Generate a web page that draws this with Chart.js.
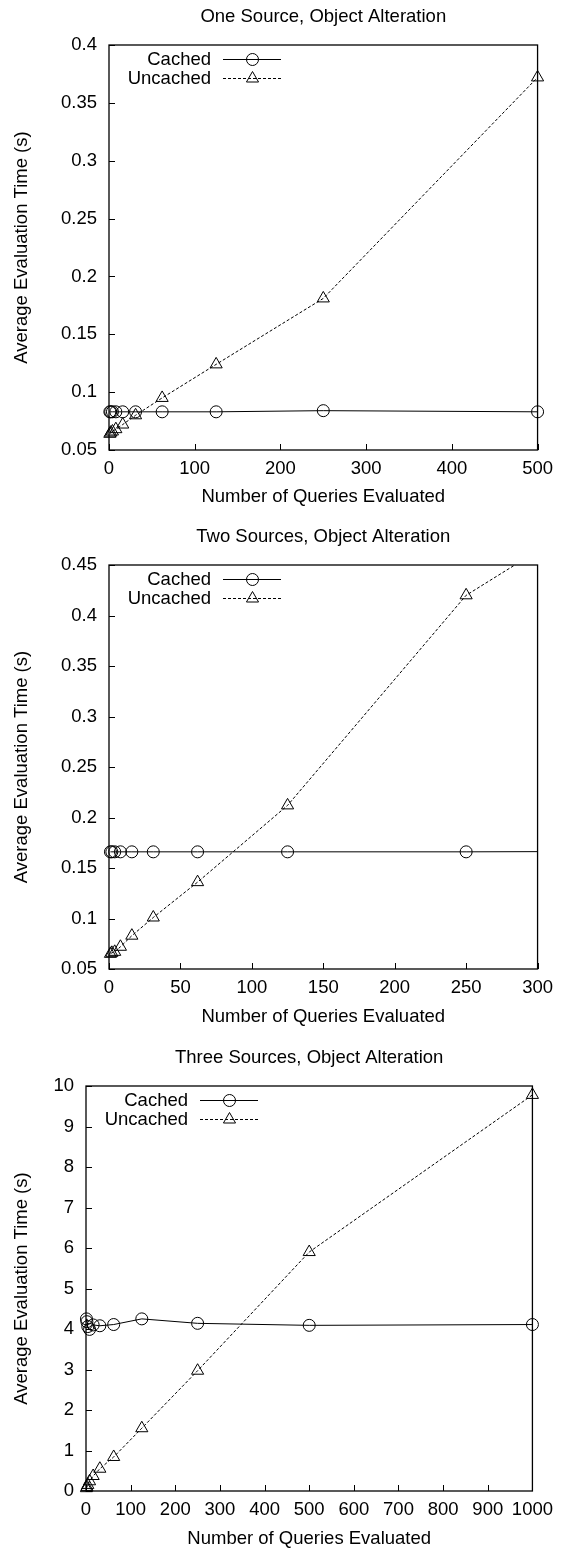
<!DOCTYPE html>
<html>
<head>
<meta charset="utf-8">
<script src="https://cdn.jsdelivr.net/npm/chart.js@4.4.1/dist/chart.umd.min.js"></script>
<style>
  html, body { margin: 0; padding: 0; background: #fff; }
  body { width: 561px; height: 1551px; position: relative; overflow: hidden; }
  canvas { position: absolute; left: 0; }
</style>
</head>
<body>
<canvas id="c1" width="561" height="515" style="top:0px"></canvas>
<canvas id="c2" width="561" height="515" style="top:520px"></canvas>
<canvas id="c3" width="561" height="515" style="top:1036px"></canvas>
<script>
const titles = ['One Source, Object Alteration', 'Two Sources, Object Alteration', 'Three Sources, Object Alteration'];
const xAxisTitle = 'Number of Queries Evaluated';
const yAxisTitle = 'Average Evaluation Time (s)';
const seriesNames = ['Cached', 'Uncached'];

// one source
const queries1 = [1, 2, 4, 8, 16, 31, 62, 125, 250, 500];
const cached1 = [0.083, 0.083, 0.083, 0.083, 0.083, 0.083, 0.083, 0.083, 0.084, 0.083];
const uncached1 = [0.064, 0.065, 0.066, 0.068, 0.072, 0.080, 0.095, 0.124, 0.181, 0.372];
const xRange1 = [0, 500, 100];
const yRange1 = [0.05, 0.4, 0.05];

// two sources (last point lies past the x range)
const queries2 = [1, 2, 4, 8, 16, 31, 62, 125, 250, 500];
const cached2 = [0.166, 0.166, 0.166, 0.166, 0.166, 0.166, 0.166, 0.166, 0.166, 0.167];
const uncached2 = [0.065, 0.066, 0.067, 0.072, 0.083, 0.101, 0.136, 0.212, 0.420, 0.64];
const xRange2 = [0, 300, 50];
const yRange2 = [0.05, 0.45, 0.05];

// three sources
const queries3 = [1, 2, 4, 8, 16, 31, 62, 125, 250, 500, 1000];
const cached3 = [4.25, 4.18, 4.06, 3.99, 4.1, 4.08, 4.11, 4.25, 4.14, 4.09, 4.11];
const uncached3 = [0.07, 0.1, 0.15, 0.24, 0.37, 0.55, 0.84, 1.55, 2.97, 5.9, 9.78];
const xRange3 = [0, 1000, 100];
const yRange3 = [0, 10, 1];

const FONT_FAMILY = "'Liberation Sans', Arial, Helvetica, sans-serif";
const FONT_SIZE = 18.5;
Chart.defaults.color = '#000';
Chart.defaults.font.family = FONT_FAMILY;
Chart.defaults.font.size = FONT_SIZE;

const plainNumber = v => String(+v.toFixed(2));

function marker(ctx, style, r, x, y) {
  ctx.beginPath();
  if (style === 'triangle') {
    let rad = 0;
    ctx.moveTo(x + Math.sin(rad) * r, y - Math.cos(rad) * r);
    rad += Math.PI * 2 / 3;
    ctx.lineTo(x + Math.sin(rad) * r, y - Math.cos(rad) * r);
    rad += Math.PI * 2 / 3;
    ctx.lineTo(x + Math.sin(rad) * r, y - Math.cos(rad) * r);
    ctx.closePath();
  } else {
    ctx.arc(x, y, r, 0, Math.PI * 2);
  }
  ctx.stroke();
}

// box frame, inward ticks and gnuplot-like key
const framePlugin = {
  id: 'frame',
  afterDatasetsDraw(chart) {
    const {ctx, chartArea: a, scales: {x, y}} = chart;
    ctx.save();
    ctx.strokeStyle = '#000';
    ctx.lineWidth = 1;
    ctx.beginPath();
    x.ticks.forEach(t => {
      const px = Math.round(x.getPixelForValue(t.value)) + 0.5;
      ctx.moveTo(px, a.bottom);
      ctx.lineTo(px, a.bottom - 6);
    });
    y.ticks.forEach(t => {
      const py = Math.round(y.getPixelForValue(t.value)) + 0.5;
      ctx.moveTo(a.left, py);
      ctx.lineTo(a.left + 6, py);
    });
    ctx.stroke();
    ctx.lineWidth = 1.3;
    ctx.strokeRect(a.left, a.top, a.right - a.left, a.bottom - a.top);

    ctx.font = FONT_SIZE + 'px ' + FONT_FAMILY;
    ctx.textAlign = 'right';
    ctx.textBaseline = 'middle';
    ctx.fillStyle = '#000';
    chart.data.datasets.forEach((ds, i) => {
      const yy = a.top + 14.5 + i * 19;
      ctx.fillText(ds.label, a.left + 102, yy);
      ctx.lineWidth = 1;
      ctx.setLineDash(ds.borderDash || []);
      ctx.beginPath();
      ctx.moveTo(a.left + 114, yy);
      ctx.lineTo(a.left + 172, yy);
      ctx.stroke();
      ctx.setLineDash([]);
      marker(ctx, ds.pointStyle, ds.pointRadius, a.left + 143.5, yy);
    });
    ctx.restore();
  }
};

function makeChart(id, title, queries, cached, uncached, xRange, yRange, box) {
  const series = [cached, uncached];
  const styles = [
    {pointStyle: 'circle', pointRadius: 6, borderDash: []},
    {pointStyle: 'triangle', pointRadius: 7, borderDash: [3, 2]}
  ];
  new Chart(document.getElementById(id), {
    type: 'line',
    data: {
      datasets: series.map((vals, i) => ({
        label: seriesNames[i],
        data: queries.map((q, k) => ({x: q, y: vals[k]})),
        borderColor: '#000',
        borderWidth: 1,
        borderDash: styles[i].borderDash,
        pointStyle: styles[i].pointStyle,
        pointRadius: styles[i].pointRadius,
        pointHoverRadius: styles[i].pointRadius,
        pointBorderColor: '#000',
        pointBorderWidth: 1,
        pointBackgroundColor: 'rgba(0,0,0,0)',
        tension: 0,
        clip: box.clip
      }))
    },
    options: {
      responsive: false,
      animation: false,
      layout: {padding: {left: 0, right: 561 - box.right, top: 0, bottom: 0}},
      plugins: {
        legend: {display: false},
        tooltip: {enabled: false},
        title: {
          display: true,
          text: title,
          fullSize: false,
          font: {size: FONT_SIZE, weight: 'normal'},
          padding: {top: box.titleY - FONT_SIZE * 0.6, bottom: box.top - box.titleY - FONT_SIZE * 0.6}
        }
      },
      scales: {
        x: {
          type: 'linear',
          min: xRange[0],
          max: xRange[1],
          grid: {display: false, drawTicks: false},
          border: {display: false},
          ticks: {stepSize: xRange[2], autoSkip: false, maxRotation: 0, minRotation: 0, padding: 8, callback: plainNumber},
          title: {display: true, text: xAxisTitle, padding: {top: 0, bottom: box.xTitlePad}},
          afterFit(s) { s.height = box.height - box.bottom; }
        },
        y: {
          type: 'linear',
          min: yRange[0],
          max: yRange[1],
          grid: {display: false, drawTicks: false},
          border: {display: false},
          ticks: {stepSize: yRange[2], padding: 12, callback: plainNumber},
          title: {display: true, text: yAxisTitle, padding: {top: 11, bottom: 0}},
          afterFit(s) { s.width = box.left; }
        }
      }
    },
    plugins: [framePlugin]
  });
}

makeChart('c1', titles[0], queries1, cached1, uncached1, xRange1, yRange1,
  {left: 109, right: 538, top: 45, bottom: 450, height: 515, titleY: 17, xTitlePad: 7, clip: false});
makeChart('c2', titles[1], queries2, cached2, uncached2, xRange2, yRange2,
  {left: 109, right: 538, top: 45, bottom: 449, height: 515, titleY: 17, xTitlePad: 7,
   clip: {left: 10, top: 0, right: 0, bottom: 10}});
makeChart('c3', titles[2], queries3, cached3, uncached3, xRange3, yRange3,
  {left: 86, right: 538, top: 50, bottom: 455, height: 515, titleY: 22, xTitlePad: 1, clip: false});
</script>
</body>
</html>
